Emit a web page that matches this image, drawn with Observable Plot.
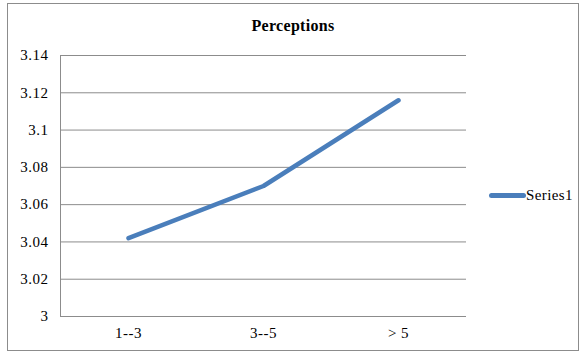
<!DOCTYPE html>
<html>
<head>
<meta charset="utf-8">
<script src="https://cdn.jsdelivr.net/npm/d3@7"></script>
<script src="https://cdn.jsdelivr.net/npm/@observablehq/plot@0.6"></script>
<style>
  html, body { margin: 0; padding: 0; background: #fff; }
  #chart {
    position: relative; width: 582px; height: 354px;
    font-family: "Liberation Serif", "Times New Roman", serif; color: #000;
  }
  #border {
    position: absolute; left: 7px; top: 3px; width: 572px; height: 348px;
    border: 1px solid #8c8c8c; box-sizing: border-box; pointer-events: none;
  }
  #title {
    position: absolute; left: 0; width: 586px; top: 17px; text-align: center;
    font-weight: bold; font-size: 16px; letter-spacing: 0.3px;
  }
  #plot { position: absolute; left: 0; top: 0; }
  #legend {
    position: absolute; left: 489px; top: 187px; display: flex; align-items: center;
    font-size: 15px; letter-spacing: 0.4px;
  }
  #legend .swatch {
    width: 37px; height: 5px; border-radius: 3px; background: #4a7ebb;
  }
</style>
</head>
<body>
<div id="chart">
  <div id="plot"></div>
  <div id="title">Perceptions</div>
  <div id="legend"><span class="swatch"></span><span id="series-name"></span></div>
  <div id="border"></div>
</div>
<script>
// Categories along the x axis
const categories = ["1--3", "3--5", "> 5"];
// Series1 values
const series1 = [3.042, 3.070, 3.116];
// Y axis ticks
const yTicks = [3, 3.02, 3.04, 3.06, 3.08, 3.1, 3.12, 3.14];
const seriesName = "Series1";

const data = categories.map((c, i) => ({category: c, value: series1[i]}));

document.getElementById("series-name").textContent = seriesName;

const grid = "#8c8c8c";
const plot = Plot.plot({
  width: 582,
  height: 354,
  marginLeft: 60,
  marginRight: 116,
  marginTop: 55,
  marginBottom: 38,
  style: {
    fontFamily: '"Liberation Serif", "Times New Roman", serif',
    fontSize: "15px",
    color: "#000",
    background: "transparent",
    overflow: "visible"
  },
  x: {type: "point", domain: categories, padding: 0.5},
  y: {domain: [3, 3.14]},
  marks: [
    Plot.ruleY(yTicks, {stroke: grid, strokeWidth: 1, strokeOpacity: 1}),
    Plot.frame({anchor: "left", stroke: grid, strokeOpacity: 1}),
    Plot.axisY({
      ticks: yTicks, tickSize: 0, tickPadding: 12, label: null,
      tickFormat: d => String(+d.toFixed(2))
    }),
    Plot.axisX({tickSize: 0, tickPadding: 11, label: null}),
    Plot.line(data, {
      x: "category", y: "value",
      stroke: "#4a7ebb", strokeWidth: 4.5,
      strokeLinecap: "round", strokeLinejoin: "round"
    })
  ]
});
plot.style.letterSpacing = "0.5px";
document.getElementById("plot").append(plot);
</script>
</body>
</html>
